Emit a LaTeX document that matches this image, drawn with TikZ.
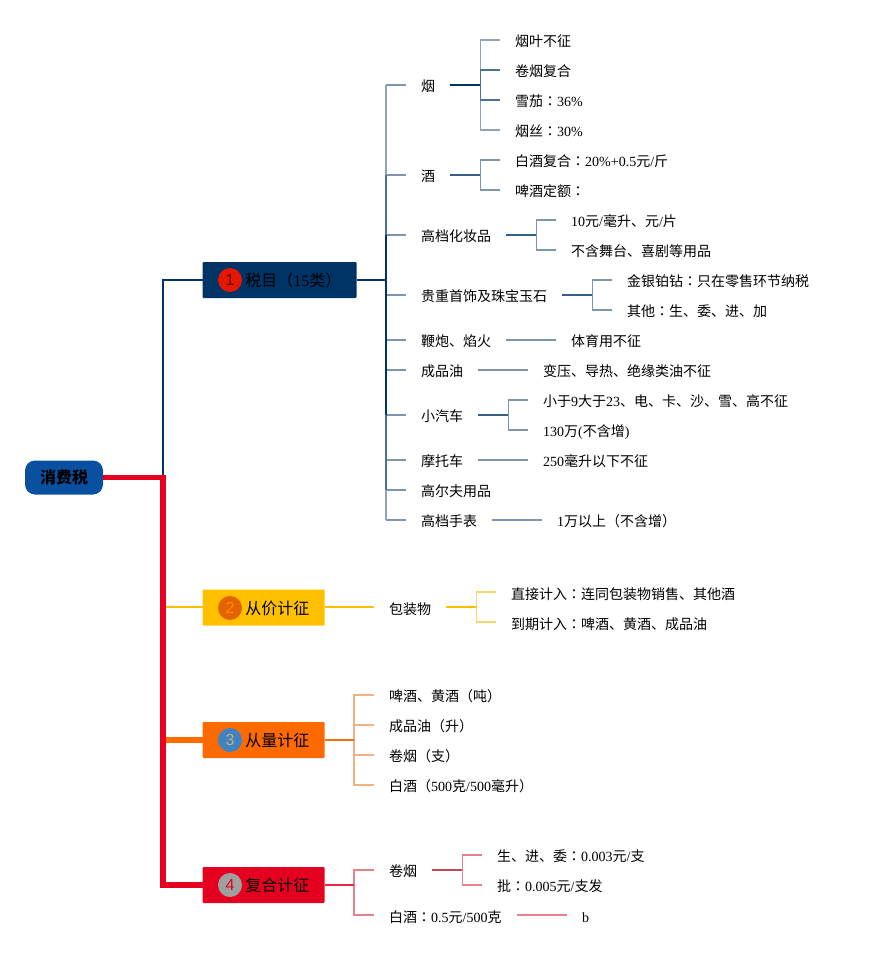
\documentclass[tikz,border=0pt]{standalone}
\usepackage{fontspec}
\setmainfont{Noto Sans CJK SC}
\newfontfamily\lat{Liberation Serif}
\newfontfamily\twfont{Noto Sans CJK TC}
\newfontfamily\badgefont{Liberation Sans}
\newcommand{\cln}{{\twfont ：}}
\definecolor{rootblue}{HTML}{0A50A1}
\definecolor{navy}{HTML}{003366}
\definecolor{navyA}{HTML}{8FA3B9}
\definecolor{navyB}{HTML}{7F95AD}
\definecolor{navyC}{HTML}{4F7093}
\definecolor{gold}{HTML}{FFC000}
\definecolor{goldA}{HTML}{F8D66A}
\definecolor{amber}{HTML}{FF6A00}
\definecolor{amberA}{HTML}{F4B183}
\definecolor{rose}{HTML}{E60020}
\definecolor{roseA}{HTML}{E8808F}
\definecolor{roseB}{HTML}{C2465A}
\usetikzlibrary{positioning}

\begin{document}
\begin{tikzpicture}[
    x=1pt, y=-1pt,
    item/.style={anchor=west, inner xsep=15pt, inner ysep=0pt, font=\fontsize{14}{16}\selectfont, text height=14pt, text depth=1.4pt},
    lowitem/.style={item, text height=16pt},
    catbox/.style={anchor=west, minimum height=36pt, rounded corners=1pt, inner sep=0pt},
    badge/.style={circle, minimum size=24pt, inner sep=0pt, font=\fontsize{16}{18}\badgefont},
    cattext/.style={anchor=west, inner sep=0pt, font=\fontsize{16}{18}\selectfont, text height=15pt, text depth=1.5pt},
    stem/.style={line width=1.5pt},
    outlet/.style={line width=2pt}
]
\useasboundingbox (0,0) rectangle (869,955);

% root and categories
\node[fill=rootblue, rounded corners=10pt, minimum width=78pt, minimum height=34pt, inner sep=0pt, font=\fontsize{16}{18}\selectfont\bfseries] (root) at (64,477.5) {消费税};
\node[catbox, fill=navy, minimum width=154pt] (tax) at (202.5,280) {};
\node[catbox, fill=gold, minimum width=122pt] (price) at (202.5,607.5) {};
\node[catbox, fill=amber, minimum width=122pt] (volume) at (202.5,740) {};
\node[catbox, fill=rose, minimum width=122pt] (mixed) at (202.5,885) {};
\node[badge, fill=red!80!orange!90!black, text=red!40!black] (taxb) at (230,280) {1};
\node[badge, fill=orange!85!red!90!black, text=orange!90!yellow] (priceb) at (230,608) {2};
\node[badge, fill=cyan!60!blue!85!white!90!black, text=brown!70] (volumeb) at (230,740) {3};
\node[badge, fill=gray!75, text=rose] (mixedb) at (230,885) {4};
\node[cattext, right=3pt of taxb] (taxt) {税目（{\lat 15}类）};
\node[cattext, right=3pt of priceb] (pricet) {从价计征};
\node[cattext, right=3pt of volumeb] (volumet) {从量计征};
\node[cattext, right=3pt of mixedb] (mixedt) {复合计征};

% taxable items
\node[item] (yan) at (406,85) {烟};
\node[item] (jiu) at (406,175) {酒};
\node[item] (gao) at (406,235) {高档化妆品};
\node[item] (gui) at (406,295) {贵重首饰及珠宝玉石};
\node[item] (bian) at (406,340) {鞭炮、焰火};
\node[item] (oil) at (406,370) {成品油};
\node[item] (car) at (406,415) {小汽车};
\node[item] (moto) at (406,460) {摩托车};
\node[item] (golf) at (406,490) {高尔夫用品};
\node[item] (watch) at (406,520) {高档手表};

\node[item] (yanA) at (500,40) {烟叶不征};
\node[item] (yanB) at (500,70) {卷烟复合};
\node[item] (yanC) at (500,100) {雪茄\cln{\lat 36\%}};
\node[item] (yanD) at (500,130) {烟丝\cln{\lat 30\%}};
\node[item] (jiuA) at (500,160) {白酒复合\cln{\lat 20\%+0.5}元{\lat /}斤};
\node[item] (jiuB) at (500,190) {啤酒定额\cln};
\node[item] (gaoA) at (556,220) {{\lat 10}元{\lat /}毫升、元{\lat /}片};
\node[item] (gaoB) at (556,250) {不含舞台、喜剧等用品};
\node[item] (guiA) at (612,280) {金银铂钻\cln 只在零售环节纳税};
\node[item] (guiB) at (612,310) {其他\cln 生、委、进、加};
\node[item] (bianA) at (556,340) {体育用不征};
\node[item] (oilA) at (528,370) {变压、导热、绝缘类油不征};
\node[item] (carA) at (528,400) {小于{\lat 9}大于{\lat 23}、电、卡、沙、雪、高不征};
\node[item] (carB) at (528,430) {{\lat 130}万{\lat (}不含增{\lat )}};
\node[item] (motoA) at (528,460) {{\lat 250}毫升以下不征};
\node[item] (watchA) at (542,520) {{\lat 1}万以上（不含增）};

% ad valorem
\node[lowitem] (pack) at (374,607) {包装物};
\node[lowitem] (packA) at (496,592) {直接计入\cln 连同包装物销售、其他酒};
\node[lowitem] (packB) at (496,622) {到期计入\cln 啤酒、黄酒、成品油};

% by volume
\node[item] (volA) at (374,695) {啤酒、黄酒（吨）};
\node[item] (volB) at (374,725) {成品油（升）};
\node[item] (volC) at (374,755) {卷烟（支）};
\node[item] (volD) at (374,785) {白酒（{\lat 500}克{\lat /500}毫升）};

% compound
\node[item] (mixA) at (374,870) {卷烟};
\node[lowitem] (mixB) at (374,915) {白酒\cln{\lat 0.5}元{\lat /500}克};
\node[item] (mixAa) at (482,855) {生、进、委\cln{\lat 0.003}元{\lat /}支};
\node[item] (mixAb) at (482,885) {批\cln{\lat 0.005}元{\lat /}支发};
\node[lowitem, font=\fontsize{14}{16}\lat] (mixBa) at (567,915) {b};

% forks
\coordinate (trunk) at (163,477.5);
\coordinate (taxFork) at (386,280);
\coordinate (yanFork) at ([xshift=30pt]yan.east);
\coordinate (jiuFork) at ([xshift=30pt]jiu.east);
\coordinate (gaoFork) at ([xshift=30pt]gao.east);
\coordinate (guiFork) at ([xshift=30pt]gui.east);
\coordinate (carFork) at ([xshift=30pt]car.east);
\coordinate (packFork) at ([xshift=30pt]pack.east);
\coordinate (volFork) at (354,740);
\coordinate (mixFork) at (354,885);
\coordinate (mixAFork) at ([xshift=30pt]mixA.east);

% main lines
\draw[navy, line width=2pt] (trunk) |- (tax.west);
\draw[gold, line width=1.5pt] ([xshift=2pt]trunk |- pack.west) -- (price.west |- pack.west);
\draw[amber, line width=5.5pt] ([xshift=2.7pt]trunk |- volume.west) -- (volume.west);
\draw[rose, line width=5.5pt, line join=miter] (root.east |- trunk) -- (trunk) |- (mixed.west);

% taxable branches, stubs first, then the spine darkening towards the box
\foreach \k in {yan, jiu, gao, gui, bian, oil, car, moto, golf, watch}
    \draw[navyB, stem] (taxFork |- \k.west) -- (\k.west);
\foreach \k/\c in {watch/navyA, golf/navyC, car/navy, yan/navyA, jiu/navyC, gao/navy}
    \draw[\c, stem] (taxFork) -- (taxFork |- \k.west);
\draw[navy, outlet] (tax.east) -- (taxFork);

\foreach \k/\c in {yanA/navyA, yanD/navyA, yanB/navyC, yanC/navyC}
    \draw[\c, stem] (yanFork) |- (\k.west);
\draw[navy, outlet] (yan.east) -- (yanFork);
\foreach \k in {jiuA, jiuB}
    \draw[navyB, stem] (jiuFork) |- (\k.west);
\draw[navyC!70!navy, outlet] (jiu.east) -- (jiuFork);
\foreach \k in {gaoA, gaoB}
    \draw[navyB, stem] (gaoFork) |- (\k.west);
\draw[navyC!70!navy, outlet] (gao.east) -- (gaoFork);
\foreach \k in {guiA, guiB}
    \draw[navyB, stem] (guiFork) |- (\k.west);
\draw[navyC!70!navy, outlet] (gui.east) -- (guiFork);
\foreach \k in {carA, carB}
    \draw[navyB, stem] (carFork) |- (\k.west);
\draw[navyC!70!navy, outlet] (car.east) -- (carFork);
\draw[navyB, stem] (bian.east) -- (bianA.west);
\draw[navyB, stem] (oil.east) -- (oilA.west);
\draw[navyB, stem] (moto.east) -- (motoA.west);
\draw[navyB, stem] (watch.east) -- (watchA.west);

% the other categories
\draw[gold, stem] (price.east |- pack.west) -- (pack.west);
\foreach \k in {packA, packB}
    \draw[goldA, stem] (packFork) |- (\k.west);
\draw[gold, stem] (pack.east) -- (packFork);

\foreach \k in {volA, volB, volC, volD}
    \draw[amberA, stem] (volFork) |- (\k.west);
\draw[amber!85!brown, outlet] (volume.east) -- (volFork);

\foreach \k in {mixA, mixB}
    \draw[roseA, stem] (mixFork) |- (\k.west);
\draw[rose!85!white, outlet] (mixed.east) -- (mixFork);
\foreach \k in {mixAa, mixAb}
    \draw[roseA, stem] (mixAFork) |- (\k.west);
\draw[roseB, outlet] (mixA.east) -- (mixAFork);
\draw[roseA, stem] (mixB.east) -- (mixBa.west);
\end{tikzpicture}
\end{document}
